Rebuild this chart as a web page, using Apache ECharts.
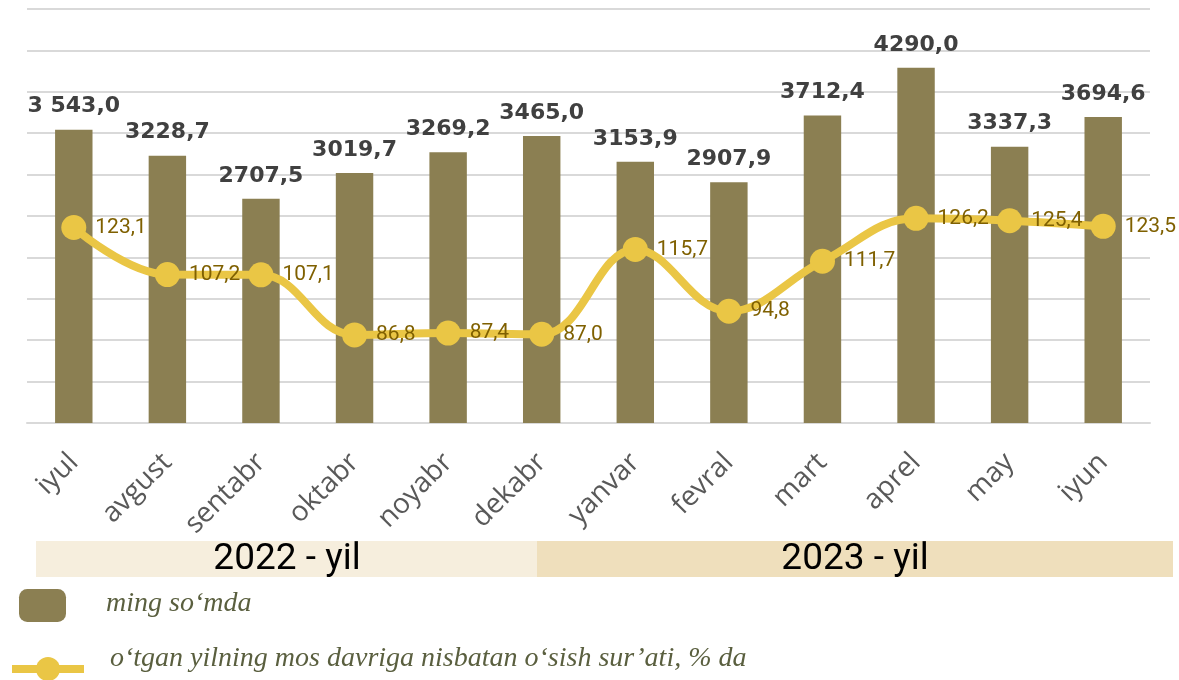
<!DOCTYPE html>
<html>
<head>
<meta charset="utf-8">
<script src="https://cdn.jsdelivr.net/npm/echarts@6/dist/echarts.min.js"></script>
<style>
  html, body { margin: 0; padding: 0; background: #fff; }
  #chart { width: 1179px; height: 680px; }
</style>
</head>
<body>
<div id="chart"></div>
<script>
// oylar
const months = ['iyul', 'avgust', 'sentabr', 'oktabr', 'noyabr', 'dekabr', 'yanvar', 'fevral', 'mart', 'aprel', 'may', 'iyun']
// ming so'mda
const amounts = [3543.0, 3228.7, 2707.5, 3019.7, 3269.2, 3465.0, 3153.9, 2907.9, 3712.4, 4290.0, 3337.3, 3694.6]
const amountLabels = ['3 543,0', '3228,7', '2707,5', '3019,7', '3269,2', '3465,0', '3153,9', '2907,9', '3712,4', '4290,0', '3337,3', '3694,6']
// o'sish sur'ati, %
const growth = [123.1, 107.2, 107.1, 86.8, 87.4, 87.0, 115.7, 94.8, 111.7, 126.2, 125.4, 123.5]
const years = ['2022 - yil', '2023 - yil']

const barName = 'ming so‘mda'
const lineName = 'o‘tgan yilning mos davriga nisbatan o‘sish sur’ati, % da'

const fmt = v => v.toFixed(1).replace('.', ',')

// legend matni uslubi
const legendText = {
  fontFamily: 'Liberation Serif',
  fontStyle: 'italic',
  fontSize: 28,
  color: '#5a5f3f'
}

const chart = echarts.init(document.getElementById('chart'))
chart.setOption({
  animation: false,
  grid: { left: 27, right: 29, top: 9, bottom: 257 },
  xAxis: {
    type: 'category',
    data: months,
    axisTick: { show: false },
    axisLine: { lineStyle: { color: '#d9d9d9', width: 2 } },
    axisLabel: {
      rotate: 45,
      margin: 35,
      color: '#595959',
      fontSize: 28,
      fontFamily: 'Open Sans'
    }
  },
  yAxis: [
    {
      type: 'value',
      min: 0,
      max: 5000,
      interval: 500,
      axisLabel: { show: false },
      axisLine: { show: false },
      axisTick: { show: false },
      splitLine: { lineStyle: { color: '#d9d9d9', width: 2 } }
    },
    {
      type: 'value',
      min: 57,
      max: 197,
      show: false,
      splitLine: { show: false }
    }
  ],
  legend: [
    {
      data: [barName],
      left: 19,
      top: 589,
      padding: 0,
      itemWidth: 47,
      itemHeight: 33,
      icon: 'roundRect',
      selectedMode: false,
      formatter: name => '{t|' + name + '}',
      textStyle: {
        rich: { t: Object.assign({ padding: [0, 0, 4, 35] }, legendText) }
      }
    },
    {
      data: [lineName],
      left: 8,
      top: 645,
      padding: 0,
      itemWidth: 72,
      itemHeight: 30,
      selectedMode: false,
      lineStyle: { width: 8 },
      formatter: name => '{t|' + name + '}',
      textStyle: {
        rich: { t: Object.assign({ padding: [0, 0, 20, 21] }, legendText) }
      }
    }
  ],
  graphic: [
    {
      type: 'rect',
      shape: { x: 36, y: 541, width: 501, height: 36 },
      style: { fill: '#f6eedd' }
    },
    {
      type: 'rect',
      shape: { x: 537, y: 541, width: 636, height: 36 },
      style: { fill: '#efdfbc' }
    },
    {
      type: 'text',
      x: 287, y: 560,
      style: {
        text: years[0], fill: '#000', fontSize: 37,
        fontFamily: 'Roboto', align: 'center', verticalAlign: 'middle'
      }
    },
    {
      type: 'text',
      x: 855, y: 560,
      style: {
        text: years[1], fill: '#000', fontSize: 37,
        fontFamily: 'Roboto', align: 'center', verticalAlign: 'middle'
      }
    }
  ],
  series: [
    {
      name: barName,
      type: 'bar',
      data: amounts,
      barWidth: '40%',
      itemStyle: { color: '#8b7f52' },
      label: {
        show: true,
        position: 'top',
        distance: 12,
        color: '#404040',
        fontSize: 22,
        fontWeight: 'bold',
        fontFamily: 'DejaVu Sans',
        formatter: p => amountLabels[p.dataIndex]
      }
    },
    {
      name: lineName,
      type: 'line',
      yAxisIndex: 1,
      data: growth,
      smooth: 0.4,
      symbol: 'circle',
      symbolSize: 25,
      itemStyle: { color: '#eac645' },
      lineStyle: { color: '#eac645', width: 8 },
      label: {
        show: true,
        position: 'right',
        distance: 9,
        color: '#7f6000',
        fontSize: 21,
        fontFamily: 'Roboto',
        formatter: p => fmt(p.value)
      }
    }
  ]
})
</script>
</body>
</html>
